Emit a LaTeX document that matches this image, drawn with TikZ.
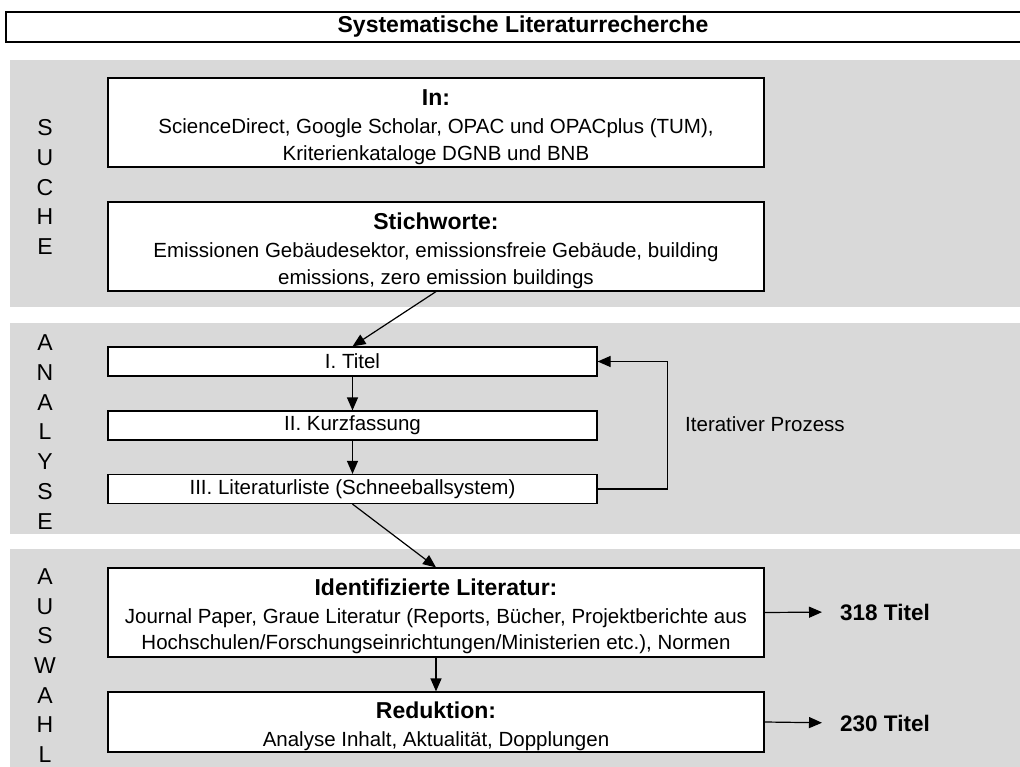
\documentclass[tikz,border=0pt]{standalone}
\usepackage{fontspec}
\setmainfont{Liberation Sans}
\usetikzlibrary{arrows.meta}
\definecolor{bandgray}{RGB}{217,217,217}
\newcommand{\boxhead}[1]{{\bfseries\fontsize{23}{27}\selectfont\rule{0pt}{25pt}#1}}

\begin{document}
\begin{tikzpicture}[x=1pt,y=-1pt,
  box/.style={draw,fill=white,line width=1.2pt,inner sep=0pt,align=center,
    font=\fontsize{20.5}{26.5}\selectfont},
  bigbox/.style={box,minimum width=656pt,minimum height=89pt},
  smallbox/.style={box,minimum width=489pt,minimum height=29pt},
  letters/.style={align=center,inner sep=0pt,font=\fontsize{23}{29.7}\selectfont},
  arr/.style={-{Triangle[length=13pt,width=11pt]},line width=1.2pt}]
\useasboundingbox (0,0) rectangle (1020,767);
\fill[bandgray] (10,60) rectangle (1020,307);
\fill[bandgray] (10,323) rectangle (1020,534);
\fill[bandgray] (10,549) rectangle (1020,767);
\node[draw,line width=1.2pt,minimum width=1034pt,minimum height=30pt,inner sep=0pt,
  font=\bfseries\fontsize{23}{27}\selectfont] (title) at (523,27) {Systematische Literaturrecherche};
\node[letters] (suche) at (45,187) {S\\U\\C\\H\\E};
\node[letters] (analyse) at (45,432) {A\\N\\A\\L\\Y\\S\\E};
\node[letters] (auswahl) at (45,665.5) {A\\U\\S\\W\\A\\H\\L};
\node[bigbox] (in) at (436,122.5) {\boxhead{In:}\\[2pt]
  ScienceDirect, Google Scholar, OPAC und OPACplus (TUM),\\Kriterienkataloge DGNB und BNB};
\node[bigbox] (stich) at (436,246.5) {\boxhead{Stichworte:}\\[2pt]
  Emissionen Gebäudesektor, emissionsfreie Gebäude, building\\emissions, zero emission buildings};
\node[smallbox] (titel) at (352.5,361.5) {I. Titel};
\node[smallbox] (kurz) at (352.5,425.5) {II. Kurzfassung};
\node[smallbox] (lit) at (352.5,489) {III. Literaturliste (Schneeballsystem)};
\node[anchor=west,inner sep=0pt,font=\fontsize{20.5}{27}\selectfont] (iter) at (685,424) {Iterativer Prozess};
\node[bigbox] (ident) at (436,612.5) {\boxhead{Identifizierte Literatur:}\\[1pt]
  Journal Paper, Graue Literatur (Reports, Bücher, Projektberichte aus\\Hochschulen/Forschungseinrichtungen/Ministerien etc.), Normen};
\node[bigbox,minimum height=60pt] (red) at (436,722) {\boxhead{Reduktion:}\\[1pt]
  Analyse Inhalt, Aktualität, Dopplungen};
\node[anchor=west,inner sep=0pt,font=\bfseries\fontsize{22.5}{27}\selectfont] (n318) at (840,612) {318 Titel};
\node[anchor=west,inner sep=0pt,font=\bfseries\fontsize{22.5}{27}\selectfont] (n230) at (840,723) {230 Titel};
\draw[arr] (stich.south) -- (titel.north);
\draw[arr] (titel.south) -- (kurz.north);
\draw[arr] (kurz.south) -- (lit.north);
\draw[arr] (lit.east) -- ++(70,0) |- (titel.east);
\draw[arr] (lit.south) -- (ident.north);
\draw[arr] (ident.south) -- (red.north);
\draw[arr,shorten >=18pt] (ident.east) -- (n318.west);
\draw[arr,shorten >=18pt] (red.east) -- (n230.west);
\end{tikzpicture}
\end{document}
